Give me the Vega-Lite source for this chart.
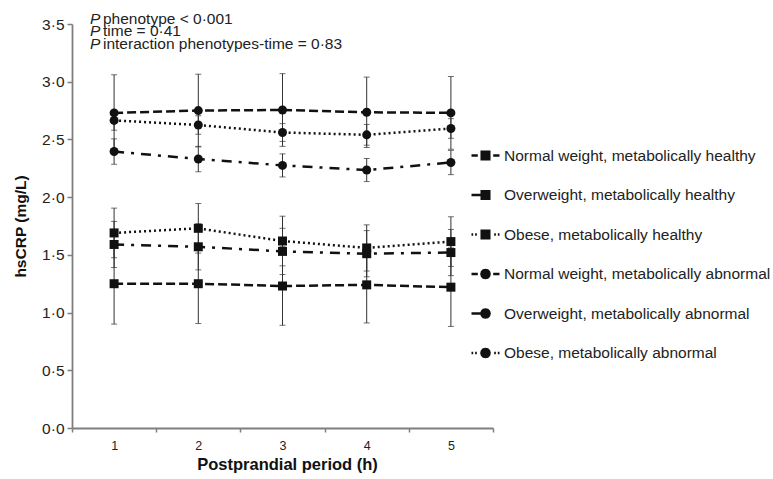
{
  "$schema": "https://vega.github.io/schema/vega-lite/v6.json",
  "width": 421,
  "height": 404,
  "autosize": {"type": "none"},
  "padding": {"left": 72, "top": 24, "right": 280, "bottom": 51},
  "config": {
    "view": {"stroke": null},
    "font": "Liberation Sans",
    "axis": {"grid": false, "domainColor": "#7f7f7f", "domainWidth": 1.8, "tickColor": "#7f7f7f", "tickWidth": 1.5, "labelColor": "#222", "titleColor": "#111", "labelFont": "Liberation Sans", "titleFont": "Liberation Sans"}
  },
  "data": {"values": [
    {"series": "Normal weight, metabolically healthy", "weight": "Normal", "status": "healthy", "time": 1, "value": 1.25, "lo": 0.90, "hi": 1.60},
    {"series": "Normal weight, metabolically healthy", "weight": "Normal", "status": "healthy", "time": 2, "value": 1.25, "lo": 0.905, "hi": 1.595},
    {"series": "Normal weight, metabolically healthy", "weight": "Normal", "status": "healthy", "time": 3, "value": 1.23, "lo": 0.89, "hi": 1.57},
    {"series": "Normal weight, metabolically healthy", "weight": "Normal", "status": "healthy", "time": 4, "value": 1.24, "lo": 0.91, "hi": 1.57},
    {"series": "Normal weight, metabolically healthy", "weight": "Normal", "status": "healthy", "time": 5, "value": 1.22, "lo": 0.88, "hi": 1.56},
    {"series": "Overweight, metabolically healthy", "weight": "Overweight", "status": "healthy", "time": 1, "value": 1.59, "lo": 1.39, "hi": 1.79},
    {"series": "Overweight, metabolically healthy", "weight": "Overweight", "status": "healthy", "time": 2, "value": 1.57, "lo": 1.37, "hi": 1.77},
    {"series": "Overweight, metabolically healthy", "weight": "Overweight", "status": "healthy", "time": 3, "value": 1.53, "lo": 1.33, "hi": 1.73},
    {"series": "Overweight, metabolically healthy", "weight": "Overweight", "status": "healthy", "time": 4, "value": 1.51, "lo": 1.31, "hi": 1.71},
    {"series": "Overweight, metabolically healthy", "weight": "Overweight", "status": "healthy", "time": 5, "value": 1.52, "lo": 1.32, "hi": 1.72},
    {"series": "Obese, metabolically healthy", "weight": "Obese", "status": "healthy", "time": 1, "value": 1.69, "lo": 1.475, "hi": 1.905},
    {"series": "Obese, metabolically healthy", "weight": "Obese", "status": "healthy", "time": 2, "value": 1.73, "lo": 1.515, "hi": 1.945},
    {"series": "Obese, metabolically healthy", "weight": "Obese", "status": "healthy", "time": 3, "value": 1.62, "lo": 1.405, "hi": 1.835},
    {"series": "Obese, metabolically healthy", "weight": "Obese", "status": "healthy", "time": 4, "value": 1.56, "lo": 1.36, "hi": 1.76},
    {"series": "Obese, metabolically healthy", "weight": "Obese", "status": "healthy", "time": 5, "value": 1.615, "lo": 1.40, "hi": 1.83},
    {"series": "Normal weight, metabolically abnormal", "weight": "Normal", "status": "abnormal", "time": 1, "value": 2.73, "lo": 2.40, "hi": 3.06},
    {"series": "Normal weight, metabolically abnormal", "weight": "Normal", "status": "abnormal", "time": 2, "value": 2.75, "lo": 2.435, "hi": 3.065},
    {"series": "Normal weight, metabolically abnormal", "weight": "Normal", "status": "abnormal", "time": 3, "value": 2.755, "lo": 2.44, "hi": 3.07},
    {"series": "Normal weight, metabolically abnormal", "weight": "Normal", "status": "abnormal", "time": 4, "value": 2.735, "lo": 2.43, "hi": 3.04},
    {"series": "Normal weight, metabolically abnormal", "weight": "Normal", "status": "abnormal", "time": 5, "value": 2.73, "lo": 2.415, "hi": 3.045},
    {"series": "Overweight, metabolically abnormal", "weight": "Overweight", "status": "abnormal", "time": 1, "value": 2.395, "lo": 2.285, "hi": 2.505},
    {"series": "Overweight, metabolically abnormal", "weight": "Overweight", "status": "abnormal", "time": 2, "value": 2.33, "lo": 2.22, "hi": 2.44},
    {"series": "Overweight, metabolically abnormal", "weight": "Overweight", "status": "abnormal", "time": 3, "value": 2.275, "lo": 2.175, "hi": 2.375},
    {"series": "Overweight, metabolically abnormal", "weight": "Overweight", "status": "abnormal", "time": 4, "value": 2.235, "lo": 2.135, "hi": 2.335},
    {"series": "Overweight, metabolically abnormal", "weight": "Overweight", "status": "abnormal", "time": 5, "value": 2.30, "lo": 2.195, "hi": 2.405},
    {"series": "Obese, metabolically abnormal", "weight": "Obese", "status": "abnormal", "time": 1, "value": 2.665, "lo": 2.58, "hi": 2.75},
    {"series": "Obese, metabolically abnormal", "weight": "Obese", "status": "abnormal", "time": 2, "value": 2.625, "lo": 2.545, "hi": 2.705},
    {"series": "Obese, metabolically abnormal", "weight": "Obese", "status": "abnormal", "time": 3, "value": 2.56, "lo": 2.483, "hi": 2.637},
    {"series": "Obese, metabolically abnormal", "weight": "Obese", "status": "abnormal", "time": 4, "value": 2.54, "lo": 2.45, "hi": 2.63},
    {"series": "Obese, metabolically abnormal", "weight": "Obese", "status": "abnormal", "time": 5, "value": 2.595, "lo": 2.51, "hi": 2.68}
  ]},
  "encoding": {
    "x": {
      "field": "time", "type": "ordinal", "title": "Postprandial period (h)",
      "scale": {"paddingInner": 0, "paddingOuter": 0},
      "axis": {"labelAngle": 0, "tickBand": "extent", "tickSize": 4, "labelFontSize": 12.5, "labelPadding": 7, "titleFontSize": 16.5, "titleFontWeight": "bold", "titlePadding": 5, "titleX": 215}
    }
  },
  "layer": [
    {
      "mark": {"type": "rule", "color": "#333", "strokeWidth": 1},
      "encoding": {
        "y": {"field": "lo", "type": "quantitative", "title": "hsCRP (mg/L)",
          "scale": {"domain": [0, 3.5], "nice": false},
          "axis": {"values": [0, 0.5, 1, 1.5, 2, 2.5, 3, 3.5], "tickSize": 5, "labelPadding": 3, "labelFontSize": 15.5, "labelExpr": "replace(format(datum.value, '.1f'), '.', '·')", "titleFontSize": 15.5, "titleFontWeight": "bold", "titlePadding": 13}},
        "y2": {"field": "hi"}
      }
    },
    {
      "mark": {"type": "tick", "color": "#333", "thickness": 1, "size": 6},
      "encoding": {"y": {"field": "lo", "type": "quantitative", "title": "hsCRP (mg/L)"}}
    },
    {
      "mark": {"type": "tick", "color": "#333", "thickness": 1, "size": 6},
      "encoding": {"y": {"field": "hi", "type": "quantitative", "title": "hsCRP (mg/L)"}}
    },
    {
      "mark": {"type": "line", "color": "#111", "strokeWidth": 2.5, "strokeCap": "butt"},
      "encoding": {
        "y": {"field": "value", "type": "quantitative", "title": "hsCRP (mg/L)"},
        "strokeDash": {"field": "weight", "type": "nominal", "legend": null,
          "scale": {"domain": ["Normal", "Overweight", "Obese"], "range": [[9, 4], [10, 7, 3, 7], [2, 3]]}},
        "detail": {"field": "series"}
      }
    },
    {
      "transform": [{"filter": "datum.status === 'healthy'"}],
      "mark": {"type": "point", "shape": "square", "filled": true, "color": "#111", "size": 81, "opacity": 1},
      "encoding": {"y": {"field": "value", "type": "quantitative", "title": "hsCRP (mg/L)"}}
    },
    {
      "transform": [{"filter": "datum.status === 'abnormal'"}],
      "mark": {"type": "point", "shape": "circle", "filled": true, "color": "#111", "size": 81, "opacity": 1},
      "encoding": {"y": {"field": "value", "type": "quantitative", "title": "hsCRP (mg/L)"}}
    },
    {
      "mark": {"type": "point", "filled": false, "fill": "#111", "stroke": "#111", "strokeWidth": 2.5, "size": 784, "opacity": 0},
      "encoding": {
        "y": {"field": "value", "type": "quantitative", "title": "hsCRP (mg/L)"},
        "shape": {"field": "series", "type": "nominal",
          "scale": {
            "domain": ["Normal weight, metabolically healthy", "Overweight, metabolically healthy", "Obese, metabolically healthy", "Normal weight, metabolically abnormal", "Overweight, metabolically abnormal", "Obese, metabolically abnormal"],
            "range": [
              "M-1,0H-0.55M0.55,0H1M-0.27,-0.27H0.27V0.27H-0.27Z",
              "M-1,0H-0.27M-0.27,-0.27H0.27V0.27H-0.27Z",
              "M-1,0H-0.88M-0.74,0H-0.62M0.62,0H0.74M0.88,0H1M-0.27,-0.27H0.27V0.27H-0.27Z",
              "M-1,0H-0.55M0.55,0H1M0.29,0L0.251,0.145L0.145,0.251L0,0.29L-0.145,0.251L-0.251,0.145L-0.29,0L-0.251,-0.145L-0.145,-0.251L0,-0.29L0.145,-0.251L0.251,-0.145Z",
              "M-1,0H-0.29M0.29,0L0.251,0.145L0.145,0.251L0,0.29L-0.145,0.251L-0.251,0.145L-0.29,0L-0.251,-0.145L-0.145,-0.251L0,-0.29L0.145,-0.251L0.251,-0.145Z",
              "M-1,0H-0.88M-0.74,0H-0.62M0.62,0H0.74M0.88,0H1M0.29,0L0.251,0.145L0.145,0.251L0,0.29L-0.145,0.251L-0.251,0.145L-0.29,0L-0.251,-0.145L-0.145,-0.251L0,-0.29L0.145,-0.251L0.251,-0.145Z"
            ]
          },
          "legend": {
            "title": null, "orient": "none", "legendX": 398, "legendY": 116,
            "labelFontSize": 15.5, "labelColor": "#222", "labelFont": "Liberation Sans", "labelOffset": 3, "labelLimit": 400, "rowPadding": 14.5, "symbolSize": 784,
            "symbolStrokeWidth": 2.5, "symbolOpacity": 1
          }
        }
      }
    },
    {
      "data": {"values": [{}]},
      "mark": {"type": "text", "align": "left", "baseline": "alphabetic", "font": "Liberation Sans", "fontStyle": "italic", "fontSize": 15.5, "lineHeight": 12.3, "dx": 18, "color": "#222"},
      "encoding": {
        "x": {"datum": 1, "type": "ordinal", "bandPosition": 0},
        "y": {"datum": 3.5, "type": "quantitative"},
        "text": {"value": ["P", "P", "P"]}
      }
    },
    {
      "data": {"values": [{}]},
      "mark": {"type": "text", "align": "left", "baseline": "alphabetic", "font": "Liberation Sans", "fontSize": 15.5, "lineHeight": 12.3, "dx": 31, "color": "#222"},
      "encoding": {
        "x": {"datum": 1, "type": "ordinal", "bandPosition": 0},
        "y": {"datum": 3.5, "type": "quantitative"},
        "text": {"value": ["phenotype < 0·001", "time = 0·41", "interaction phenotypes-time = 0·83"]}
      }
    }
  ]
}
